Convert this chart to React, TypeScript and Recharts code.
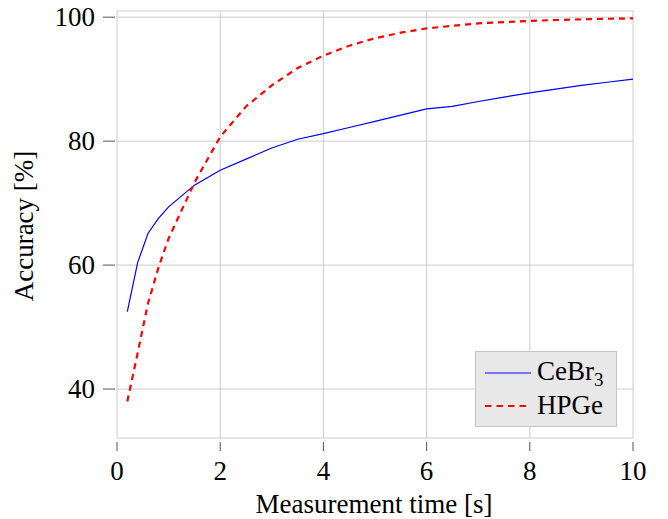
import React from 'react';
import { LineChart, Line, XAxis, YAxis, CartesianGrid } from 'recharts';

// measurement times [s]
const times = [0.2, 0.4, 0.6, 0.8, 1.0, 1.5, 2, 2.5, 3, 3.5, 4, 4.5, 5, 5.5, 6, 6.5, 7, 7.5, 8, 8.5, 9, 9.5, 10];
// accuracy [%]
const cebr3 = [52.5, 60.4, 65.1, 67.5, 69.4, 72.9, 75.3, 77.1, 78.9, 80.3, 81.2, 82.2, 83.2, 84.2, 85.2, 85.6, 86.4, 87.1, 87.8, 88.4, 89.0, 89.5, 90.0];
const hpge = [38.0, 45.8, 53.8, 59.5, 64.3, 73.3, 80.7, 85.6, 89.0, 91.8, 93.8, 95.4, 96.6, 97.5, 98.2, 98.6, 99.0, 99.2, 99.4, 99.55, 99.65, 99.75, 99.8];

const xTicks = [0, 2, 4, 6, 8, 10];
const yTicks = [40, 60, 80, 100];

const FONT = '"Liberation Serif", "Times New Roman", serif';

const data = times.map((t, i) => ({ t, cebr3: cebr3[i], hpge: hpge[i] }));

// plot box
const LEFT = 117;
const TOP = 11;
const BOTTOM = 438;

const renderXTick = (props: any) => {
  const { x, payload } = props;
  return (
    <g key={`xt-${payload.value}`}>
      <line x1={x} x2={x} y1={BOTTOM + 4} y2={BOTTOM + 13} stroke="#555" strokeWidth={1} />
      <text x={x} y={BOTTOM + 42} textAnchor="middle" fontFamily={FONT} fontSize={27} fill="#000">
        {payload.value}
      </text>
    </g>
  );
};

const renderYTick = (props: any) => {
  const { y, payload } = props;
  return (
    <g key={`yt-${payload.value}`}>
      <line x1={LEFT - 14} x2={LEFT - 2} y1={y} y2={y} stroke="#555" strokeWidth={1} />
      <text x={LEFT - 22} y={y + 9} textAnchor="end" fontFamily={FONT} fontSize={27} fill="#000">
        {payload.value}
      </text>
    </g>
  );
};

const LegendBox = () => (
  <div
    style={{
      position: 'absolute',
      left: 475,
      top: 351,
      width: 142,
      height: 76,
      boxSizing: 'border-box',
      background: '#e8e8e8',
      border: '1px solid #c4c4c4',
      fontFamily: FONT,
      fontSize: 27,
      color: '#000',
    }}
  >
    <svg width={60} height={76} style={{ position: 'absolute', left: 0, top: 0 }}>
      <line x1={9} x2={55} y1={21} y2={21} stroke="#0000ff" strokeWidth={1.2} />
      <line x1={9} x2={55} y1={54} y2={54} stroke="#ff0000" strokeWidth={2} strokeDasharray="6.5 5" />
    </svg>
    <div style={{ position: 'absolute', left: 61, top: 4, lineHeight: '30px', whiteSpace: 'nowrap' }}>
      CeBr<span style={{ fontSize: 19, position: 'relative', top: 6 }}>3</span>
    </div>
    <div style={{ position: 'absolute', left: 61, top: 38, lineHeight: '30px', whiteSpace: 'nowrap' }}>
      HPGe
    </div>
  </div>
);

export default function App() {
  return (
    <div style={{ position: 'absolute', left: 0, top: 0, width: 668, height: 519, background: '#fff' }}>
      <LineChart width={668} height={519} data={data} margin={{ top: TOP, right: 35, bottom: 80, left: LEFT - 1 }}>
        <CartesianGrid stroke="#cccccc" strokeWidth={1} />
        <XAxis
          dataKey="t"
          type="number"
          domain={[0, 10]}
          ticks={xTicks}
          allowDataOverflow
          axisLine={false}
          tickLine={false}
          height={1}
          interval={0}
          tick={renderXTick}
        />
        <YAxis
          type="number"
          domain={[32.1, 101]}
          ticks={yTicks}
          allowDataOverflow
          axisLine={false}
          tickLine={false}
          width={1}
          interval={0}
          tick={renderYTick}
        />
        <Line
          type="linear"
          dataKey="cebr3"
          name="CeBr3"
          stroke="#0000ff"
          strokeWidth={1.2}
          dot={false}
          isAnimationActive={false}
        />
        <Line
          type="linear"
          dataKey="hpge"
          name="HPGe"
          stroke="#ff0000"
          strokeWidth={2.2}
          strokeDasharray="6 5"
          dot={false}
          isAnimationActive={false}
        />
        <text x={374} y={513} textAnchor="middle" fontFamily={FONT} fontSize={27} fill="#000">
          Measurement time [s]
        </text>
        <text
          x={33}
          y={226}
          textAnchor="middle"
          transform="rotate(-90 33 226)"
          fontFamily={FONT}
          fontSize={27}
          fill="#000"
        >
          Accuracy [%]
        </text>
      </LineChart>
      <LegendBox />
    </div>
  );
}
